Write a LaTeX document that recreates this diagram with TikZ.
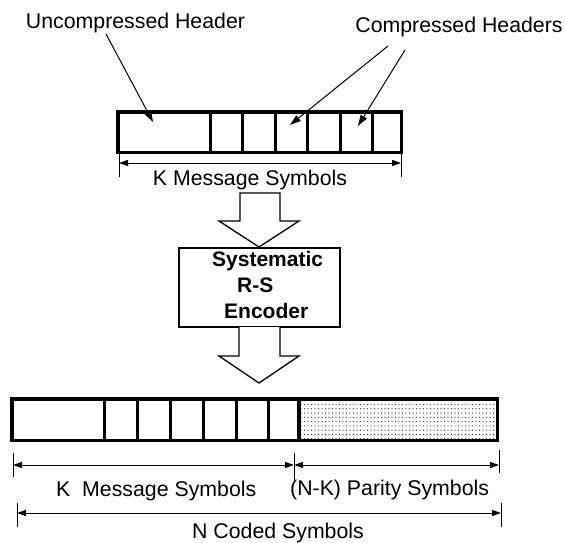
\documentclass[tikz,border=0pt]{standalone}
\usepackage{fontspec}
\setmainfont{Liberation Sans}
\usetikzlibrary{arrows.meta,patterns}
\pgfdeclarepatternformonly{sparsedots}{\pgfpoint{-1pt}{-1pt}}{\pgfpoint{1pt}{1pt}}{\pgfpoint{3.5pt}{4.3pt}}{\pgfpathcircle{\pgfpointorigin}{0.6pt}\pgfusepath{fill}}
\tikzset{
  lbl/.style={inner sep=0pt, font=\fontsize{21.3}{25}\selectfont},
  enctext/.style={inner sep=0pt, font=\fontsize{21}{25}\selectfont\bfseries},
  barline/.style={line width=3.5pt},
  divline/.style={line width=3pt},
  tickline/.style={line width=1pt},
  dimline/.style={line width=1pt, {Triangle[length=9pt,width=6pt]}-{Triangle[length=9pt,width=6pt]}},
  pointer/.style={line width=1pt, -{Triangle[length=11pt,width=7pt]}},
  hollow/.style={line width=1.3pt, line join=miter, fill=white},
}
\begin{document}
\begin{tikzpicture}[x=1pt,y=-1pt]
\useasboundingbox (0,0) rectangle (566,542);

% labels at top
\node[lbl, anchor=base] (uhlabel) at (135.5,28) {Uncompressed Header};
\node[lbl, anchor=base] (chlabel) at (459,32) {Compressed Headers};

% top bar
\node[draw, barline, minimum width=283.5pt, minimum height=40.5pt, inner sep=0pt, outer sep=0pt] (topbar) at (259.5,132) {};
\foreach \x in {210,242.5,275,307.5,340,372.5}
  \draw[divline] (\x,111.75) -- (\x,152.25);

% pointers
\coordinate (uhfrom) at (106,34);
\coordinate (uhto) at (153,122);
\coordinate (chfromA) at (388,46);
\coordinate (chtoA) at (290,125);
\coordinate (chfromB) at (405,50);
\coordinate (chtoB) at (358,126);
\draw[pointer] (uhfrom) -- (uhto);
\draw[pointer] (chfromA) -- (chtoA);
\draw[pointer] (chfromB) -- (chtoB);

% top dimension
\coordinate (tdl) at (119,163);
\coordinate (tdr) at (401,163);
\draw[tickline] (119,154) -- (119,177);
\draw[tickline] (401,154) -- (401,177);
\draw[dimline] (tdl) -- (tdr);
\node[lbl, anchor=base] (kmsgtop) at (250,185) {K Message Symbols};

% hollow arrow 1
\draw[hollow] (240,193) -- (280,193) -- (280,221) -- (299,221) -- (259,247) -- (219,221) -- (240,221) -- cycle;

% encoder
\node[draw, line width=2.2pt, minimum width=161pt, minimum height=79pt, inner sep=0pt, outer sep=0pt] (enc) at (259.5,287.5) {};
\node[enctext, anchor=base west] (encA) at (212,266) {Systematic};
\node[enctext, anchor=base west] (encB) at (237,292) {R-S};
\node[enctext, anchor=base west] (encC) at (224,318) {Encoder};

% hollow arrow 2
\draw[hollow] (239,327) -- (239,356) -- (219,356) -- (259,383) -- (299,356) -- (280,356) -- (280,327);

% bottom bar
\fill[pattern=sparsedots, pattern color=black!85] (299,398.5) rectangle (497.5,440.5);
\node[draw, barline, minimum width=485.5pt, minimum height=41.5pt, inner sep=0pt, outer sep=0pt] (botbar) at (254.5,419.5) {};
\foreach \x in {104,137,170,203,236,268}
  \draw[divline] (\x,398.75) -- (\x,440.25);
\draw[barline] (299,398.75) -- (299,440.25);

% bottom dimensions
\draw[tickline] (13,453) -- (13,477);
\draw[tickline] (294,453) -- (294,480);
\draw[tickline] (499,450) -- (499,473);
\coordinate (kl) at (13,465);
\coordinate (km) at (294,465);
\coordinate (kr) at (499,465);
\draw[dimline] (kl) -- (km);
\draw[dimline] (km) -- (kr);
\node[lbl, anchor=base west] (kmsgbot) at (56,496) {K\ \ Message Symbols};
\node[lbl, anchor=base west] (parity) at (290,495) {(N-K) Parity Symbols};

\draw[tickline] (17,503) -- (17,527);
\draw[tickline] (501,503) -- (501,527);
\coordinate (nl) at (17,513);
\coordinate (nr) at (501,513);
\draw[dimline] (nl) -- (nr);
\node[lbl, anchor=base west] (ncoded) at (192,538) {N Coded Symbols};
\end{tikzpicture}
\end{document}
